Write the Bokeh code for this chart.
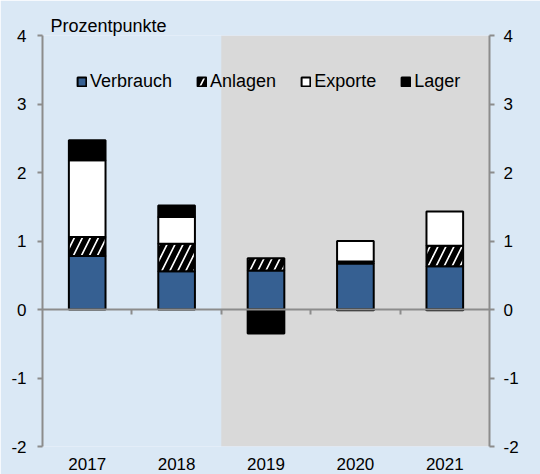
import numpy as np
from bokeh.plotting import figure
from bokeh.models import Range1d, LinearAxis, FixedTicker, BoxAnnotation
from bokeh.embed import file_html
from bokeh.resources import INLINE

# ---- data ----
years = ["2017", "2018", "2019", "2020", "2021"]
forecast_from = "2019"
verbrauch = [0.78, 0.56, 0.57, 0.67, 0.63]
anlagen = [0.28, 0.40, 0.18, 0.03, 0.30]
exporte = [1.12, 0.39, -0.02, 0.30, 0.50]
lager = [0.29, 0.17, -0.33, -0.01, -0.01]
series_names = ["Verbrauch", "Anlagen", "Exporte", "Lager"]
y_ticks = [-2, -1, 0, 1, 2, 3, 4]
y_tick_labels = ["-2", "-1", "0", "1", "2", "3", "4"]
y_label = "Prozentpunkte"

BG = "#DAE8F5"
GREY_AXIS = "#8C8C8C"
FONT = "Liberation Sans"

n = len(years)
x = np.arange(n) + 0.5

p = figure(width=540, height=474, output_backend="svg", toolbar_location=None,
           x_range=Range1d(0, n), y_range=Range1d(min(y_ticks), max(y_ticks)),
           x_axis_location=None, y_axis_location=None,
           min_border_left=42, min_border_right=51, min_border_top=35,
           min_border_bottom=28)
p.background_fill_color = BG
p.border_fill_color = BG
p.outline_line_color = None
p.xgrid.visible = False
p.ygrid.visible = False

# title (unit)
p.title.text = y_label
p.title.align = "left"
p.title.offset = 8
p.title.standoff = 0
p.title.text_font = FONT
p.title.text_font_size = "18px"
p.title.text_font_style = "normal"
p.title.text_color = "black"

# forecast shading
p.add_layout(BoxAnnotation(left=years.index(forecast_from), right=n,
                           fill_color="#D9D9D9", fill_alpha=1.0,
                           line_color=None, level="underlay"))

# stacked bars (positive and negative stacked separately)
styles = [
    dict(fill_color="#366092"),
    dict(fill_color="white", hatch_pattern="/", hatch_color="black",
         hatch_weight=5.5, hatch_scale=16),
    dict(fill_color="white"),
    dict(fill_color="black"),
]
pos = np.zeros(n)
neg = np.zeros(n)
for name, vals, st in zip(series_names, [verbrauch, anlagen, exporte, lager], styles):
    v = np.array(vals, dtype=float)
    bottom = np.where(v >= 0, pos, neg)
    top = bottom + v
    pos = pos + np.maximum(v, 0)
    neg = neg + np.minimum(v, 0)
    p.vbar(x=x, bottom=bottom, top=top, width=0.41, line_color="black",
           line_width=2, legend_label=name, **st)

# axes
def style_y(ax, standoff):
    ax.ticker = FixedTicker(ticks=y_ticks)
    ax.major_label_overrides = {t: s for t, s in zip(y_ticks, y_tick_labels)}
    ax.axis_line_color = GREY_AXIS
    ax.axis_line_width = 2
    ax.major_tick_line_color = GREY_AXIS
    ax.major_tick_line_width = 2
    ax.major_tick_in = 0
    ax.major_tick_out = 5
    ax.minor_tick_line_color = None
    ax.major_label_text_font = FONT
    ax.major_label_text_font_size = "17px"
    ax.major_label_text_color = "black"
    ax.major_label_standoff = standoff

yl = LinearAxis()
style_y(yl, 11)
p.add_layout(yl, "left")
yr = LinearAxis()
style_y(yr, 9)
p.add_layout(yr, "right")

# zero line with boundary ticks
zero_axis = LinearAxis(fixed_location=0, ticker=FixedTicker(ticks=list(range(1, n))))
zero_axis.axis_line_color = GREY_AXIS
zero_axis.axis_line_width = 2
zero_axis.major_tick_line_color = GREY_AXIS
zero_axis.major_tick_line_width = 2
zero_axis.major_tick_in = 0
zero_axis.major_tick_out = 5
zero_axis.minor_tick_line_color = None
zero_axis.major_label_text_color = None
zero_axis.major_label_standoff = 0
p.add_layout(zero_axis, "below")

# category labels at bottom
xb = LinearAxis(ticker=FixedTicker(ticks=list(x)))
xb.major_label_overrides = {float(xi): yr_ for xi, yr_ in zip(x, years)}
xb.axis_line_color = None
xb.major_tick_line_color = None
xb.minor_tick_line_color = None
xb.major_tick_out = 0
xb.major_tick_in = 0
xb.major_label_standoff = 11
xb.major_label_text_font = FONT
xb.major_label_text_font_size = "17px"
xb.major_label_text_color = "black"
p.add_layout(xb, "below")

# legend
lg = p.legend[0]
lg.orientation = "horizontal"
lg.location = (34, 354)
lg.background_fill_alpha = 0
lg.border_line_color = None
lg.padding = 0
lg.margin = 0
lg.spacing = 24
lg.glyph_width = 11
lg.glyph_height = 11
lg.label_standoff = 3
lg.label_text_font = FONT
lg.label_text_font_size = "18px"
lg.label_text_color = "black"

open("out.html", "w").write(file_html(p, INLINE))
